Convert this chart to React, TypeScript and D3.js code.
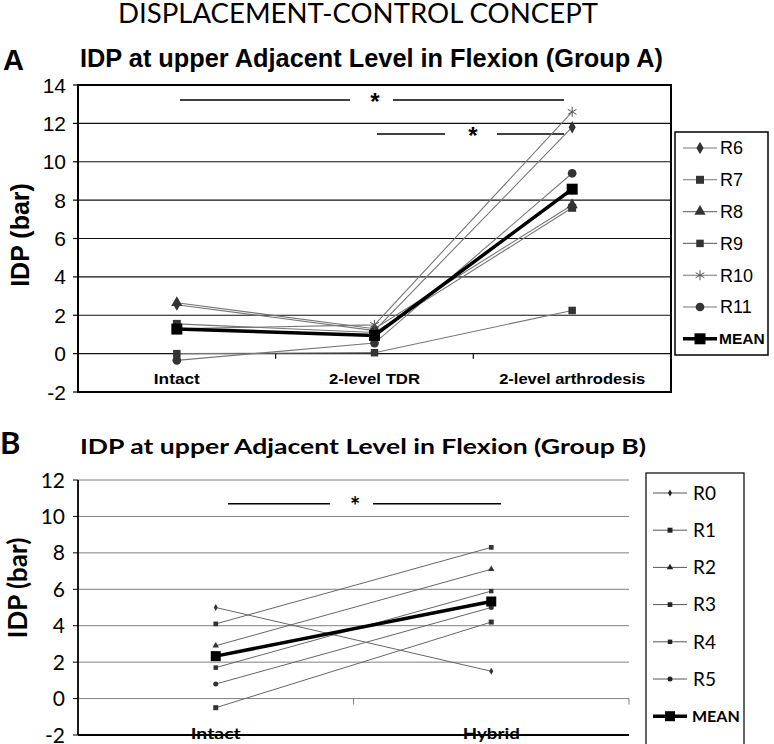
import React from "react";
import * as d3 from "d3";

// ---------- Data ----------
const catsA = ["Intact", "2-level TDR", "2-level arthrodesis"];
const R6 = [2.55, 1.2, 11.8];
const R7 = [1.55, 1.1, 7.6];
const R8 = [2.65, 1.3, 7.75];
const R9 = [0.0, 0.05, 2.25];
const R10 = [1.3, 1.5, 12.6];
const R11 = [-0.35, 0.55, 9.4];
const MEAN_A = [1.28, 0.95, 8.57];
const ticksA = [-2, 0, 2, 4, 6, 8, 10, 12, 14];

const catsB = ["Intact", "Hybrid"];
const R0 = [5.0, 1.5];
const R1 = [-0.5, 4.2];
const R2 = [2.9, 7.1];
const R3 = [4.1, 8.3];
const R4 = [1.7, 5.9];
const R5 = [0.8, 5.0];
const MEAN_B = [2.33, 5.33];
const ticksB = [-2, 0, 2, 4, 6, 8, 10, 12];

type Sym = "diamond" | "square" | "triangle" | "asterisk" | "circle";
const seriesA: { name: string; values: number[]; sym: Sym; size: number }[] = [
  { name: "R6", values: R6, sym: "diamond", size: 44 },
  { name: "R7", values: R7, sym: "square", size: 64 },
  { name: "R8", values: R8, sym: "triangle", size: 55 },
  { name: "R9", values: R9, sym: "square", size: 56 },
  { name: "R10", values: R10, sym: "asterisk", size: 70 },
  { name: "R11", values: R11, sym: "circle", size: 60 },
];
const seriesB: { name: string; values: number[]; sym: Sym; size: number }[] = [
  { name: "R0", values: R0, sym: "diamond", size: 14 },
  { name: "R1", values: R1, sym: "square", size: 25 },
  { name: "R2", values: R2, sym: "triangle", size: 18 },
  { name: "R3", values: R3, sym: "square", size: 22 },
  { name: "R4", values: R4, sym: "square", size: 20 },
  { name: "R5", values: R5, sym: "circle", size: 20 },
];

const symMap: Record<Sym, d3.SymbolType> = {
  diamond: d3.symbolDiamond,
  square: d3.symbolSquare,
  triangle: d3.symbolTriangle,
  asterisk: d3.symbolAsterisk,
  circle: d3.symbolCircle,
};

const fontA = "'Liberation Sans', Arial, sans-serif";
const fontB = "Lato, 'Open Sans', sans-serif";

function Marker({ x, y, sym, size, fill }: { x: number; y: number; sym: Sym; size: number; fill: string }) {
  const p = d3.symbol().type(symMap[sym]).size(size)() as string;
  if (sym === "asterisk") {
    return <path d={p} transform={`translate(${x},${y})`} fill="none" stroke="#555" strokeWidth={1} />;
  }
  return <path d={p} transform={`translate(${x},${y})`} fill={fill} stroke="none" />;
}

function ChartA() {
  const x = d3.scaleBand<string>().domain(catsA).range([78, 671]);
  const y = d3.scaleLinear().domain([-2, 14]).range([392, 85]);
  const cx = (c: string) => (x(c) as number) + x.bandwidth() / 2;
  const line = d3
    .line<number>()
    .x((_, i) => cx(catsA[i]))
    .y((d) => y(d));
  const bounds = catsA.slice(1).map((c) => x(c) as number);
  const legY = (i: number) => 148 + i * 31.8;
  return (
    <g>
      <text x={3} y={70} fontFamily={fontA} fontWeight="bold" fontSize={29}>A</text>
      <text x={80} y={67} fontFamily={fontA} fontWeight="bold" fontSize={25} textLength={583} lengthAdjust="spacingAndGlyphs">
        IDP at upper Adjacent Level in Flexion (Group A)
      </text>
      {/* gridlines */}
      {ticksA.filter((t) => t > -2 && t < 14).map((t) => (
        <line key={t} x1={78} x2={671} y1={y(t)} y2={y(t)} stroke="#111" strokeWidth={1.2} />
      ))}
      {/* frame */}
      <rect x={78} y={y(14)} width={593} height={y(-2) - y(14)} fill="none" stroke="#000" strokeWidth={2} />
      {/* left ticks */}
      {ticksA.map((t) => (
        <g key={t}>
          <line x1={73} x2={78} y1={y(t)} y2={y(t)} stroke="#000" strokeWidth={1.2} />
          <text x={66} y={y(t)} dy="0.36em" textAnchor="end" fontFamily={fontA} fontSize={21}>{t}</text>
        </g>
      ))}
      {/* category ticks on zero line */}
      {bounds.map((b, i) => (
        <line key={i} x1={b} x2={b} y1={y(0)} y2={y(0) + 5} stroke="#000" strokeWidth={1.2} />
      ))}
      {/* category labels */}
      {catsA.map((c, i) => (
        <text key={c} x={cx(c)} y={384} textAnchor="middle" fontFamily={fontA} fontWeight="bold" fontSize={15}
          textLength={[46, 91, 146][i]} lengthAdjust="spacingAndGlyphs">{c}</text>
      ))}
      {/* axis label */}
      <text transform={`translate(29,235) rotate(-90)`} textAnchor="middle" fontFamily={fontA} fontWeight="bold" fontSize={25}>IDP (bar)</text>
      {/* significance */}
      <line x1={180} x2={350} y1={100} y2={100} stroke="#000" strokeWidth={1.5} />
      <line x1={393} x2={564} y1={100} y2={100} stroke="#000" strokeWidth={1.5} />
      <text x={375} y={110} textAnchor="middle" fontFamily={fontA} fontWeight="bold" fontSize={24}>*</text>
      <line x1={377} x2={445} y1={134} y2={134} stroke="#000" strokeWidth={1.5} />
      <line x1={497} x2={564} y1={134} y2={134} stroke="#000" strokeWidth={1.5} />
      <text x={473} y={144} textAnchor="middle" fontFamily={fontA} fontWeight="bold" fontSize={24}>*</text>
      {/* series */}
      {seriesA.map((s) => (
        <path key={s.name} d={line(s.values) as string} fill="none" stroke="#777" strokeWidth={1.1} />
      ))}
      {seriesA.map((s) =>
        s.values.map((v, i) => (
          <Marker key={s.name + i} x={cx(catsA[i])} y={y(v)} sym={s.sym} size={s.size} fill="#333" />
        ))
      )}
      <path d={line(MEAN_A) as string} fill="none" stroke="#000" strokeWidth={3.5} />
      {MEAN_A.map((v, i) => (
        <rect key={i} x={cx(catsA[i]) - 5.5} y={y(v) - 5.5} width={11} height={11} fill="#000" />
      ))}
      {/* legend */}
      <rect x={675} y={132} width={93} height={223} fill="#fff" stroke="#000" strokeWidth={1.5} />
      {seriesA.map((s, i) => (
        <g key={s.name}>
          <line x1={683} x2={717} y1={legY(i)} y2={legY(i)} stroke="#777" strokeWidth={1.1} />
          <Marker x={700} y={legY(i)} sym={s.sym} size={s.size} fill="#333" />
          <text x={720} y={legY(i)} dy="0.36em" fontFamily={fontA} fontSize={18}>{s.name}</text>
        </g>
      ))}
      <line x1={683} x2={717} y1={legY(6)} y2={legY(6)} stroke="#000" strokeWidth={3.5} />
      <rect x={694.5} y={legY(6) - 5.5} width={11} height={11} fill="#000" />
      <text x={719} y={legY(6)} dy="0.36em" fontFamily={fontA} fontWeight="bold" fontSize={15.5}>MEAN</text>
    </g>
  );
}

function ChartB() {
  const x = d3.scaleBand<string>().domain(catsB).range([78, 629]);
  const y = d3.scaleLinear().domain([-2, 12]).range([735, 480]);
  const cx = (c: string) => (x(c) as number) + x.bandwidth() / 2;
  const line = d3
    .line<number>()
    .x((_, i) => cx(catsB[i]))
    .y((d) => y(d));
  const legY = (i: number) => 493 + i * 37.2;
  return (
    <g>
      <text x={0} y={454} fontFamily={fontB} fontWeight="bold" fontSize={31}>B</text>
      <text x={80} y={454} fontFamily={fontB} fontWeight="bold" fontSize={21} textLength={566} lengthAdjust="spacingAndGlyphs">
        IDP at upper Adjacent Level in Flexion (Group B)
      </text>
      {ticksB.filter((t) => t > -2).map((t) => (
        <line key={t} x1={78} x2={629} y1={y(t)} y2={y(t)} stroke="#808080" strokeWidth={1} />
      ))}
      {/* ticks */}
      {ticksB.map((t) => (
        <g key={t}>
          <line x1={73} x2={78} y1={y(t)} y2={y(t)} stroke="#000" strokeWidth={1} />
          <text x={65} y={y(t)} dy="0.36em" textAnchor="end" fontFamily={fontB} fontSize={21}>{t}</text>
        </g>
      ))}
      {[x("Hybrid") as number, 629].map((b, i) => (
        <line key={i} x1={b} x2={b} y1={y(0)} y2={y(0) + 6} stroke="#808080" strokeWidth={1} />
      ))}
      {/* category labels (overlapping bottom line) */}
      {catsB.map((c, i) => (
        <text key={c} x={cx(c)} y={739} textAnchor="middle" fontFamily={fontB} fontWeight="bold" fontSize={16}
          textLength={[50, 57][i]} lengthAdjust="spacingAndGlyphs">{c}</text>
      ))}
      <line x1={78} x2={629} y1={y(-2)} y2={y(-2)} stroke="#000" strokeWidth={2} />
      <line x1={78} x2={78} y1={y(12)} y2={y(-2)} stroke="#000" strokeWidth={1.8} />
      <text transform={`translate(27,588) rotate(-90)`} textAnchor="middle" fontFamily={fontB} fontWeight="bold" fontSize={26}>IDP (bar)</text>
      {/* significance */}
      <line x1={228} x2={330} y1={y(10.7)} y2={y(10.7)} stroke="#000" strokeWidth={1.5} />
      <line x1={373} x2={501} y1={y(10.7)} y2={y(10.7)} stroke="#000" strokeWidth={1.5} />
      <text x={355} y={y(10.7) + 11} textAnchor="middle" fontFamily={fontB} fontWeight="bold" fontSize={24}>*</text>
      {seriesB.map((s) => (
        <path key={s.name} d={line(s.values) as string} fill="none" stroke="#666" strokeWidth={1} />
      ))}
      {seriesB.map((s) =>
        s.values.map((v, i) => (
          <Marker key={s.name + i} x={cx(catsB[i])} y={y(v)} sym={s.sym} size={s.size} fill="#333" />
        ))
      )}
      <path d={line(MEAN_B) as string} fill="none" stroke="#000" strokeWidth={3.5} />
      {MEAN_B.map((v, i) => (
        <rect key={i} x={cx(catsB[i]) - 5} y={y(v) - 5} width={10} height={10} fill="#000" />
      ))}
      {/* legend */}
      <rect x={646} y={473} width={98} height={274} fill="#fff" stroke="#000" strokeWidth={1.2} />
      {seriesB.map((s, i) => (
        <g key={s.name}>
          <line x1={653} x2={687} y1={legY(i)} y2={legY(i)} stroke="#555" strokeWidth={1} />
          <Marker x={670} y={legY(i)} sym={s.sym} size={s.size} fill="#222" />
          <text x={693} y={legY(i)} dy="0.36em" fontFamily={fontB} fontSize={19}>{s.name}</text>
        </g>
      ))}
      <line x1={653} x2={687} y1={legY(6)} y2={legY(6)} stroke="#000" strokeWidth={3.5} />
      <rect x={665} y={legY(6) - 5} width={10} height={10} fill="#000" />
      <text x={692} y={legY(6)} dy="0.36em" fontFamily={fontB} fontWeight="bold" fontSize={16}>MEAN</text>
    </g>
  );
}

export default function App() {
  return (
    <svg width={774} height={744} viewBox="0 0 774 744"
      style={{ position: "absolute", left: 0, top: 0, background: "#fff" }}>
      <rect x={0} y={0} width={774} height={744} fill="#fff" />
      <text x={118} y={23} fontFamily={fontB} fontSize={26} textLength={480} lengthAdjust="spacingAndGlyphs">
        DISPLACEMENT-CONTROL CONCEPT
      </text>
      <ChartA />
      <ChartB />
    </svg>
  );
}
